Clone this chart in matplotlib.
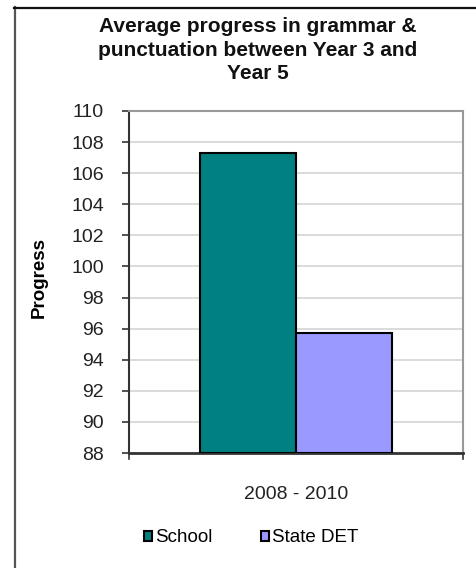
import matplotlib
matplotlib.use("Agg")
import matplotlib.pyplot as plt
from matplotlib.patches import Patch
from matplotlib.lines import Line2D

plt.rcParams['font.family'] = ['Liberation Sans', 'DejaVu Sans']

# Data
categories = ["2008 - 2010"]
series_names = ["School", "State DET"]
series_values = [107.3, 95.7]
series_colors = ["#008080", "#9999FF"]
y_ticks = list(range(88, 111, 2))

W, H = 476, 568
fig = plt.figure(figsize=(W / 100, H / 100), dpi=100)

# plot area in pixel coordinates
left, right, top, bottom = 129, 463, 111, 453
ax = fig.add_axes([left / W, 1 - bottom / H, (right - left) / W, (bottom - top) / H])

width = 0.287
offsets = [-width / 2, width / 2]
for name, val, col, off in zip(series_names, series_values, series_colors, offsets):
    ax.bar(0 + off, val - 88, bottom=88, width=width, color=col,
           edgecolor="black", linewidth=1.5, label=name, zorder=3)

ax.set_xlim(-0.5, 0.5)
ax.set_ylim(88, 110)
ax.set_yticks(y_ticks)
ax.set_yticklabels([str(t) for t in y_ticks], fontsize=14, color="#222222")
ax.yaxis.grid(True, color="#d4d4d4", linewidth=1.2, zorder=0)
ax.set_axisbelow(True)

ax.set_xticks([0])
ax.set_xticklabels(categories, fontsize=14, color="#222222")
ax.tick_params(axis="x", length=0, pad=24)
ax.tick_params(axis="y", length=5, width=1.2, color="#333333", pad=13)

# boundary ticks of the category axis
for xb in (-0.5, 0.5):
    ax.plot([xb, xb], [88, 88 - 6 / 15.55], color="#333333", lw=1.2, clip_on=False, zorder=4)

for s in ("top", "right"):
    ax.spines[s].set_color("#999999")
    ax.spines[s].set_linewidth(1.5)
ax.spines["left"].set_color("#333333")
ax.spines["left"].set_linewidth(1.5)
ax.spines["bottom"].set_color("#333333")
ax.spines["bottom"].set_linewidth(2)

ax.set_ylabel("Progress", fontsize=13.5, fontweight="bold")
ax.yaxis.set_label_coords((39 - left) / (right - left), (453 - 277) / (bottom - top))
ax.yaxis.label.set_verticalalignment("center")

fig.text(257.5 / W, 1 - 50 / H,
         "Average progress in grammar &\npunctuation between Year 3 and\nYear 5",
         ha="center", va="center", fontsize=15, fontweight="bold",
         color="#111111", linespacing=1.3)

handles = [Patch(facecolor=c, edgecolor="black", linewidth=1.5) for c in series_colors]
fig.legend(handles, series_names, loc="center", bbox_to_anchor=(251 / W, 1 - 538 / H),
           ncol=2, frameon=False, fontsize=13.5, handlelength=0.45, handleheight=0.45,
           handletextpad=0.15, columnspacing=2.6)

# outer chart border (left and top edges)
fig.add_artist(Line2D([14.5 / W, 14.5 / W], [0, 1 - 7 / H], color="#555555", lw=1.6))
fig.add_artist(Line2D([14 / W, 1], [1 - 7.5 / H, 1 - 7.5 / H], color="#111111", lw=1.6))

fig.savefig("out.png", dpi=100)
